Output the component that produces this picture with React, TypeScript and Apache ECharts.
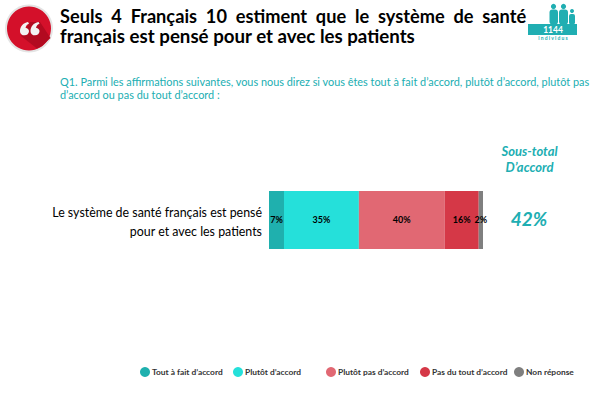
import React, { useEffect, useRef } from "react";
import * as echarts from "echarts";

const categories = ["Le système de santé français est pensé\npour et avec les patients"];
const seriesNames = ["Tout à fait d’accord", "Plutôt d’accord", "Plutôt pas d’accord", "Pas du tout d’accord", "Non réponse"];
const seriesValues = [7, 35, 40, 16, 2];
const seriesColors = ["#1FB0AE", "#25E0DA", "#E16873", "#D53847", "#7F7F7F"];
const legendLefts = [140, 233, 326, 420, 514];
const titleLines = ["Seuls  4  Français  10  estiment  que  le  système  de  santé", "français est pensé pour et avec les patients"];
const questionLines = [
  "Q1. Parmi les affirmations suivantes, vous nous direz si vous êtes tout à fait d’accord, plutôt d’accord, plutôt pas",
  "d’accord ou pas du tout d’accord :",
];
const subtotalHeader = ["Sous-total", "D’accord"];
const subtotalValue = "42%";
const sampleSize = "1144";
const sampleLabel = "i n d i v i d u s";

const TEAL = "#20AEB2";
const FONT = "Lato, Carlito, sans-serif";

const QUOTE_PATH =
  "M8 0C3 1 0 5 0 10C0 13 2 14.5 4.5 14.5C7 14.5 9 12.5 9 10C9 8 7.5 6.5 5.5 6.2C6 4 7.5 2.5 9 2Z" +
  "M18.5 0C13.5 1 10.5 5 10.5 10C10.5 13 12.5 14.5 15 14.5C17.5 14.5 19.5 12.5 19.5 10C19.5 8 18 6.5 16 6.2C16.5 4 18 2.5 19.5 2Z";
echarts.graphic.registerShape("quoteMark", echarts.graphic.extendPath(QUOTE_PATH, {}) as any);

export default function App() {
  const ref = useRef<HTMLDivElement>(null);
  useEffect(() => {
    const chart = echarts.init(ref.current!, null, { renderer: "svg" });
    const text = (x: number, y: number, t: string, style: any) => ({
      type: "text",
      x,
      y,
      silent: true,
      style: { text: t, fontFamily: FONT, verticalAlign: "middle", ...style },
    });
    chart.setOption({
      animation: false,
      backgroundColor: "#fff",
      textStyle: { fontFamily: FONT },
      grid: { left: 269, top: 191, width: 214, height: 58 },
      xAxis: { type: "value", min: 0, max: 100, show: false },
      yAxis: {
        type: "category",
        data: categories,
        axisLine: { show: false },
        axisTick: { show: false },
        axisLabel: {
          align: "right",
          margin: 7,
          formatter: (v: string) => "{s| }\n" + v.split("\n").map((l) => `{a|${l}}`).join("\n"),
          rich: {
            s: { fontSize: 1, lineHeight: 4 },
            a: { color: "#000", fontSize: 12.4, lineHeight: 18.5, fontFamily: FONT, align: "right" },
          },
        },
      },
      legend: seriesNames.map((name, i) => ({
        data: [name],
        left: legendLefts[i],
        top: 367,
        itemWidth: 10,
        itemHeight: 10,
        icon: "circle",
        padding: 0,
        textStyle: { fontSize: 8.4, fontWeight: "bold", color: "#333", fontFamily: FONT, padding: [0, 0, 0, -3] },
      })),
      series: seriesNames.map((name, i) => ({
        name,
        type: "bar",
        stack: "total",
        barWidth: "100%",
        data: [seriesValues[i]],
        itemStyle: { color: seriesColors[i] },
        label: {
          show: true,
          position: "inside",
          offset: [0, -1],
          formatter: "{c}%",
          color: "#000",
          fontSize: 9,
          fontWeight: "bold",
          fontFamily: FONT,
        },
      })),
      graphic: [
        { type: "circle", silent: true, shape: { cx: 29, cy: 28.5, r: 24 }, style: { fill: "#E4E4E4" } },
        { type: "circle", silent: true, shape: { cx: 29, cy: 28.5, r: 22 }, style: { fill: "#D4102A" } },
        {
          type: "polygon",
          silent: true,
          shape: { points: [[21, 36], [30, 22], [40, 22], [50.5, 38], [42, 46], [37, 48.5]] },
          style: { fill: "#B20A20" },
        },
        { type: "quoteMark", silent: true, x: 20, y: 22, scaleY: 0.92, style: { fill: "#F3F3F3" } },
        text(60, 15.5, titleLines[0], { fontSize: 18.2, fontWeight: "bold", fill: "#000" }),
        text(60, 36, titleLines[1], { fontSize: 18.7, fontWeight: "bold", fill: "#000" }),
        ...questionLines.map((t, i) => text(60, 81.5 + i * 13, t, { fontSize: 10.9, fill: TEAL })),
        ...subtotalHeader.map((t, i) =>
          text(529.5, 150.5 + i * 16.5, t, { fontSize: 13, fontWeight: "bold", fontStyle: "italic", fill: TEAL, align: "center" })
        ),
        text(529, 218, subtotalValue, { fontSize: 19, fontStyle: "italic", fontWeight: "bold", fill: TEAL, align: "center" }),
        { type: "circle", silent: true, shape: { cx: 553.5, cy: 6.5, r: 2.6 }, style: { fill: TEAL } },
        { type: "circle", silent: true, shape: { cx: 563.5, cy: 6.5, r: 2.6 }, style: { fill: TEAL } },
        { type: "circle", silent: true, shape: { cx: 572, cy: 11, r: 2 }, style: { fill: TEAL } },
        { type: "rect", silent: true, shape: { x: 549.5, y: 9.5, width: 8.5, height: 15, r: 3 }, style: { fill: TEAL } },
        { type: "rect", silent: true, shape: { x: 559, y: 9.5, width: 9, height: 15, r: 3 }, style: { fill: TEAL } },
        { type: "rect", silent: true, shape: { x: 569, y: 14, width: 6, height: 10.5, r: 2 }, style: { fill: TEAL } },
        { type: "rect", silent: true, shape: { x: 528, y: 24, width: 49, height: 11 }, style: { fill: TEAL } },
        text(553, 29.5, sampleSize, { fontSize: 8.5, fontWeight: "bold", fill: "#fff", align: "center" }),
        text(553, 37.5, sampleLabel, { fontSize: 5, fontWeight: "bold", fill: TEAL, align: "center" }),
      ],
    });
    return () => chart.dispose();
  }, []);
  return <div ref={ref} style={{ position: "fixed", left: 0, top: 0, width: 604, height: 405 }} />;
}
